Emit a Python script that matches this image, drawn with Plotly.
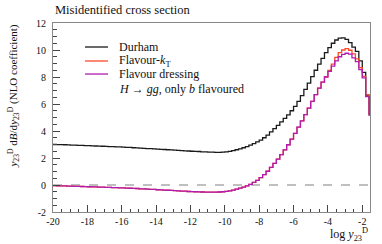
import numpy as np
import plotly.graph_objects as go

# Histogram bins: lower edges from -20 in steps of 0.2 up to upper edge -1.4
bin_lo = -20.0
bin_width = 0.2
n_bins = 93

durham = [
    3.00, 2.99, 2.99, 2.98, 2.97,
    2.96, 2.95, 2.94, 2.93, 2.92,
    2.91, 2.90, 2.89, 2.88, 2.87,
    2.86, 2.85, 2.84, 2.83, 2.82,
    2.80, 2.79, 2.78, 2.76, 2.75,
    2.73, 2.72, 2.70, 2.69, 2.67,
    2.66, 2.64, 2.63, 2.61, 2.60,
    2.58, 2.56, 2.55, 2.53, 2.52,
    2.50, 2.49, 2.48, 2.46, 2.45,
    2.44, 2.43, 2.42, 2.42, 2.43,
    2.45, 2.49, 2.55, 2.61, 2.68,
    2.76, 2.85, 2.95, 3.06, 3.19,
    3.33, 3.50, 3.70, 3.93, 4.17,
    4.42, 4.67, 4.93, 5.20, 5.50,
    5.83, 6.20, 6.62, 7.08, 7.55,
    8.03, 8.50, 8.95, 9.38, 9.80,
    10.18, 10.50, 10.74, 10.88, 10.90,
    10.78, 10.55, 10.22, 9.90, 9.20,
    8.35, 6.60, 5.20,
]

flavour_kt = [
    -0.05, -0.06, -0.07, -0.07, -0.08,
    -0.09, -0.10, -0.10, -0.11, -0.12,
    -0.13, -0.14, -0.14, -0.15, -0.16,
    -0.17, -0.18, -0.19, -0.20, -0.21,
    -0.22, -0.23, -0.24, -0.25, -0.26,
    -0.28, -0.29, -0.30, -0.32, -0.33,
    -0.35, -0.36, -0.38, -0.39, -0.40,
    -0.42, -0.43, -0.45, -0.46, -0.48,
    -0.49, -0.50, -0.51, -0.52, -0.53,
    -0.53, -0.53, -0.53, -0.52, -0.50,
    -0.47, -0.43, -0.38, -0.31, -0.23,
    -0.15, -0.06, 0.05, 0.19, 0.35,
    0.55, 0.77, 1.02, 1.30, 1.60,
    1.92, 2.25, 2.60, 2.98, 3.40,
    3.83, 4.28, 4.75, 5.22, 5.70,
    6.20, 6.70, 7.18, 7.62, 8.02,
    8.48, 8.95, 9.45, 9.80, 10.00,
    10.10, 9.98, 9.72, 9.35, 8.70,
    8.05, 6.70, 5.25,
]

flavour_dressing = [
    -0.05, -0.06, -0.07, -0.07, -0.08,
    -0.09, -0.10, -0.10, -0.11, -0.12,
    -0.13, -0.14, -0.14, -0.15, -0.16,
    -0.17, -0.18, -0.19, -0.20, -0.21,
    -0.22, -0.23, -0.24, -0.25, -0.26,
    -0.28, -0.29, -0.30, -0.32, -0.33,
    -0.35, -0.36, -0.38, -0.39, -0.40,
    -0.42, -0.43, -0.45, -0.46, -0.48,
    -0.49, -0.50, -0.51, -0.52, -0.53,
    -0.53, -0.53, -0.53, -0.52, -0.50,
    -0.47, -0.43, -0.38, -0.31, -0.23,
    -0.15, -0.06, 0.05, 0.19, 0.35,
    0.55, 0.77, 1.02, 1.30, 1.60,
    1.92, 2.25, 2.60, 2.98, 3.40,
    3.83, 4.28, 4.75, 5.22, 5.70,
    6.20, 6.70, 7.18, 7.62, 8.00,
    8.42, 8.80, 9.20, 9.50, 9.68,
    9.76, 9.70, 9.42, 9.14, 8.55,
    7.93, 6.55, 5.20,
]

x_tick_vals = [-20, -18, -16, -14, -12, -10, -8, -6, -4, -2]
x_tick_text = ["-20", "-18", "-16", "-14", "-12", "-10", "-8", "-6", "-4", "-2"]
y_tick_vals = [-2, 0, 2, 4, 6, 8, 10, 12]
y_tick_text = ["-2", "0", "2", "4", "6", "8", "10", "12"]

series_names = ["Durham", "Flavour-<i>k</i><sub>T</sub>", "Flavour dressing"]
series_colors = ["#1a1a1a", "#ff4a2a", "#b01cb0"]

edges = np.round(bin_lo + bin_width * np.arange(n_bins + 1), 2)

FONT = "Liberation Serif"
fig = go.Figure()
for vals, name, col in zip([durham, flavour_kt, flavour_dressing], series_names, series_colors):
    yy = list(vals) + [vals[-1]]
    fig.add_trace(go.Scatter(x=edges, y=yy, mode="lines", line=dict(color=col, width=1.3, shape="hv"),
                             name=name, showlegend=False, hoverinfo="skip"))

fig.add_hline(y=0, line=dict(color="#808080", width=1.2, dash="dash"), layer="below")

# manual legend
leg_y = [0.873, 0.799, 0.730]
for yy, name, col in zip(leg_y, series_names, series_colors):
    fig.add_shape(type="line", xref="paper", yref="paper", x0=0.101, x1=0.1735, y0=yy, y1=yy,
                  line=dict(color=col, width=1.3))
    fig.add_annotation(xref="paper", yref="paper", x=0.202, y=yy, xanchor="left", yanchor="middle",
                       text=name, showarrow=False, font=dict(family=FONT, size=12, color="#111"))
fig.add_annotation(xref="paper", yref="paper", x=0.202, y=0.653, xanchor="left", yanchor="middle",
                   text="<i>H</i> → <i>gg</i>, only <i>b</i> flavoured", showarrow=False,
                   font=dict(family=FONT, size=12, color="#111"))

# title
fig.add_annotation(xref="paper", yref="paper", x=0.0, y=1.0, yshift=4, xanchor="left", yanchor="bottom",
                   text="Misidentified cross section", showarrow=False,
                   font=dict(family=FONT, size=12.5, color="#111"))
# y title
fig.add_annotation(xref="paper", yref="paper", x=-0.126, y=1.0, xanchor="center", yanchor="top",
                   textangle=-90,
                   text="<i>y</i><sub>23</sub><sup>D</sup> d<i>B</i>/d<i>y</i><sub>23</sub><sup>D</sup> (NLO coefficient)",
                   showarrow=False, font=dict(family=FONT, size=11, color="#111"))
# x title
fig.add_annotation(xref="paper", yref="paper", x=1.0, y=-0.12, xanchor="right", yanchor="middle",
                   text="log <i>y</i><sub>23</sub><sup>D</sup>", showarrow=False,
                   font=dict(family=FONT, size=12, color="#111"))

axis_common = dict(showgrid=False, zeroline=False, showline=True, linecolor="#888888", linewidth=1,
                   mirror=True, ticks="inside", ticklen=7, tickcolor="#444444", tickwidth=1,
                   tickfont=dict(family=FONT, size=10, color="#111"))
fig.update_xaxes(range=[-20, -1.55], tickvals=x_tick_vals, ticktext=x_tick_text,
                 minor=dict(ticks="inside", ticklen=3.5, dtick=0.5, tick0=-20, tickcolor="#444444"),
                 **axis_common)
fig.update_yaxes(range=[-2, 12], tickvals=y_tick_vals, ticktext=y_tick_text,
                 minor=dict(ticks="inside", ticklen=3.5, dtick=0.5, tick0=-2, tickcolor="#444444"),
                 ticklabelstandoff=4, **axis_common)

fig.update_layout(width=382, height=244, margin=dict(l=53, r=12, t=23, b=32),
                  plot_bgcolor="white", paper_bgcolor="white", showlegend=False,
                  font=dict(family=FONT))
fig.write_html("out.html", config={"displayModeBar": False},
               post_script="document.body.style.margin='0';")
